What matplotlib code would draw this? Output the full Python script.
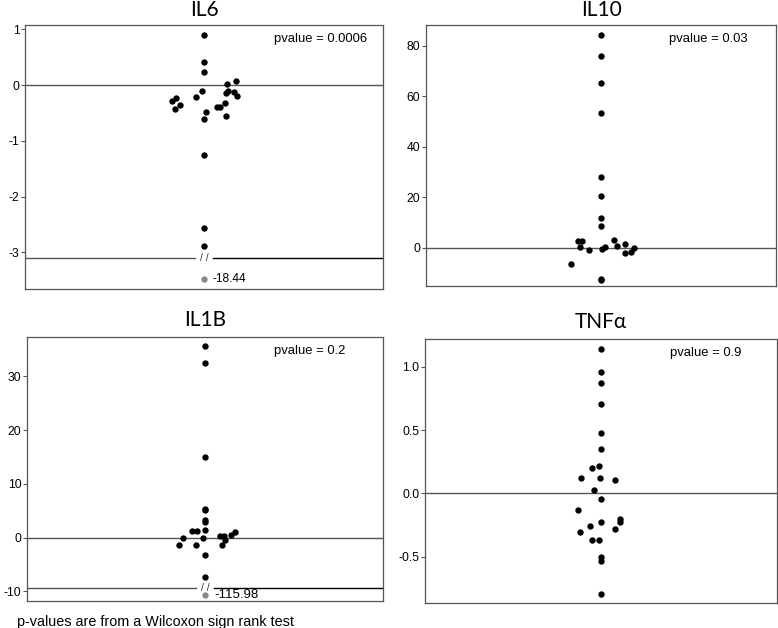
import matplotlib
matplotlib.use('Agg')
import matplotlib.pyplot as plt
import numpy as np

plt.rcParams['font.family'] = ['Liberation Sans', 'DejaVu Sans']
plt.rcParams['axes.unicode_minus'] = False

# IL6 fold changes (x = swarm offset)
il6_y = [0.90, 0.41, 0.23, -0.11, -0.21, -0.29, -0.23, -0.43, -0.36, -0.60, -0.49,
         -0.39, -0.39, -0.32, -0.55, 0.02, 0.07, -0.14, -0.10, -0.13, -0.20,
         -1.26, -2.57, -2.88]
il6_x = [0, 0, 0, -0.013, -0.043, -0.181, -0.156, -0.164, -0.132, 0, 0.013,
         0.074, 0.089, 0.119, 0.125, 0.130, 0.177, 0.125, 0.134, 0.169, 0.184,
         0, 0, 0]

il10_y = [84.4, 75.8, 65.2, 53.3, 27.9, 20.6, 11.6, 8.6, 2.8, 2.5, 0.3, -0.8,
          -6.6, -0.4, 0.3, -12.5, -12.8, 3.0, 0.5, 1.3, -2.2, -1.8, -0.3]
il10_x = [0, 0, 0, 0, 0, 0, 0, 0, -0.133, -0.109, -0.122, -0.067,
          -0.170, 0.006, 0.025, 0, 0, 0.074, 0.090, 0.137, 0.135, 0.173, 0.187]

il1b_y = [35.7, 32.5, 14.9, 5.4, 5.1, 3.3, 2.8, 1.4, 1.2, 1.2, -0.1, -1.3, -1.3,
          -0.1, 0.2, 0.2, -0.4, -1.3, 0.5, 1.1, -3.3, -7.3]
il1b_x = [0, 0, 0, 0, 0, 0, 0, 0, -0.073, -0.045, -0.124, -0.146, -0.049,
          -0.012, 0.082, 0.105, 0.112, 0.097, 0.148, 0.170, 0, 0]

tnf_y = [1.142, 0.963, 0.874, 0.705, 0.474, 0.355, 0.218, 0.205, 0.126, 0.126,
         0.105, 0.026, -0.045, -0.132, -0.224, -0.203, -0.224, -0.253, -0.284,
         -0.305, -0.371, -0.371, -0.505, -0.532, -0.792]
tnf_x = [0, 0, 0, 0, 0, 0, -0.009, -0.054, -0.112, -0.004, 0.080, -0.041, 0,
         -0.128, 0.002, 0.108, 0.110, -0.065, 0.077, -0.121, -0.050, -0.013,
         0, 0, 0]

titles = ['IL6', 'IL10', 'IL1B', 'TNF\u03b1']
pvalues = ['0.0006', '0.03', '0.2', '0.9']
ylims = [(-3.66, 1.08), (-15.2, 88.2), (-11.8, 37.3), (-0.865, 1.22)]
yticks = [[-3, -2, -1, 0, 1], [0, 20, 40, 60, 80], [-10, 0, 10, 20, 30],
          [-0.5, 0.0, 0.5, 1.0]]
ytick_labels = [['-3', '-2', '-1', '0', '1'], ['0', '20', '40', '60', '80'],
                ['-10', '0', '10', '20', '30'], ['-0.5', '0.0', '0.5', '1.0']]

# off-scale outliers: real value, where it sits below the axis break, break level
outlier_value = {'IL6': -18.44, 'IL1B': -115.98}
outlier_shown_at = {'IL6': -3.48, 'IL1B': -10.6}
break_at = {'IL6': -3.1, 'IL1B': -9.4}

# axes boxes in figure fractions [left, bottom, width, height]
positions = [
    [0.0321, 0.5398, 0.4602, 0.4204],
    [0.5476, 0.5446, 0.4498, 0.4156],
    [0.0347, 0.0430, 0.4576, 0.4204],
    [0.5463, 0.0398, 0.4524, 0.4204],
]


def draw_panel(ax, name, xs, ys, ylim, ticks, labels, pvalue, title_y):
    frame = '#555555'
    ax.scatter(xs, ys, s=21, color='black', linewidths=0, zorder=3)
    ax.axhline(0, color=frame, lw=1.0, zorder=1)

    if name in outlier_value:
        b = break_at[name]
        ax.axhline(b, xmin=0, xmax=0.475, color=frame, lw=1.0)
        ax.axhline(b, xmin=0.525, xmax=1, color='black', lw=1.0)
        ax.text(0.0, b, '/ /', ha='center', va='center', fontsize=7.5, color='#333333')
        ax.scatter([0], [outlier_shown_at[name]], s=21, color='#888888',
                   linewidths=0, zorder=3)
        ax.text(0.05, outlier_shown_at[name], f'{outlier_value[name]:.2f}',
                ha='left', va='center', fontsize=8.6 if name == 'IL6' else 9.5)

    ax.set_xlim(-1, 1)
    ax.set_ylim(*ylim)
    ax.set_xticks([])
    ax.set_yticks(ticks)
    ax.set_yticklabels(labels, fontsize=8.8)
    ax.tick_params(axis='y', direction='out', length=3, width=0.8, color=frame, pad=1)
    for sp in ax.spines.values():
        sp.set_color(frame)
        sp.set_linewidth(0.9)

    ax.text(0.695, 0.946, f'pvalue = {pvalue}', transform=ax.transAxes,
            ha='left', va='center', fontsize=9.4)
    ax.text(0.5, title_y, name, transform=ax.transAxes, ha='center', va='center',
            fontsize=15, family=['Lato', 'DejaVu Sans'])


fig = plt.figure(figsize=(7.78, 6.28), dpi=100)

series = [(il6_x, il6_y), (il10_x, il10_y), (il1b_x, il1b_y), (tnf_x, tnf_y)]
title_ys = [1.057, 1.057, 1.064, 1.066]
for i, name in enumerate(titles):
    ax = fig.add_axes(positions[i])
    xs, ys = series[i]
    draw_panel(ax, name, xs, ys, ylims[i], yticks[i], ytick_labels[i],
               pvalues[i], title_ys[i])

fig.text(0.022, 0.010, 'p-values are from a Wilcoxon sign rank test',
         ha='left', va='center', fontsize=10.4)

fig.savefig('out.png', dpi=100)
